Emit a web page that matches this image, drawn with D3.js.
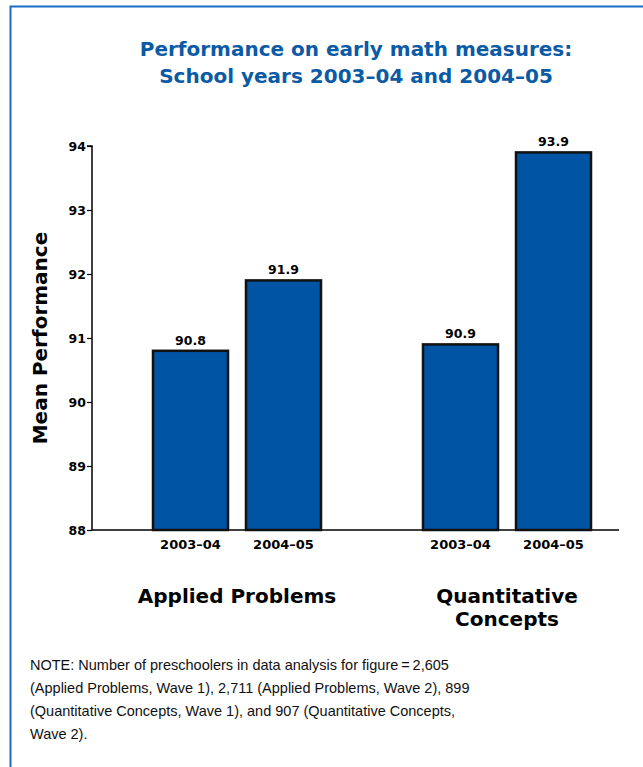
<!DOCTYPE html>
<html>
<head>
<meta charset="utf-8">
<script src="https://cdn.jsdelivr.net/npm/d3@7"></script>
<style>
	body { margin: 0; background: #fff; }
	svg { display: block; font-family: 'Liberation Sans', Arial, sans-serif; }
	.bold { font-family: 'DejaVu Sans', sans-serif; font-weight: bold; }
</style>
</head>
<body>
<script>
// data
var groups = ['Applied Problems', 'Quantitative Concepts'];
var groupLines = [['Applied Problems'], ['Quantitative', 'Concepts']];
var years = ['2003\u201304', '2004\u201305'];
var appliedValues = [90.8, 91.9];
var quantValues = [90.9, 93.9];
var yTicks = [88, 89, 90, 91, 92, 93, 94];
var noteLines = [
	'NOTE: Number of preschoolers in data analysis for figure\u2009=\u20092,605',
	'(Applied Problems, Wave 1), 2,711 (Applied Problems, Wave 2), 899',
	'(Quantitative Concepts, Wave 1), and 907 (Quantitative Concepts,',
	'Wave 2).'
];

var dataset = [];
groups.forEach(function (g, i) {
	var vals = i === 0 ? appliedValues : quantValues;
	years.forEach(function (yr, j) {
		dataset.push({ group: g, year: yr, value: vals[j] });
	});
});

var width = 643, height = 767;
var svg = d3.select('body')
	.append('svg')
	.attr('width', width)
	.attr('height', height);

// frame
svg.append('path')
	.attr('d', 'M10.5,' + height + ' V6.5 H' + width)
	.attr('fill', 'none')
	.attr('stroke', '#1a6cc4')
	.attr('stroke-width', 2);

// title
svg.append('text')
	.attr('class', 'bold')
	.attr('text-anchor', 'middle')
	.attr('fill', '#0b5aa6')
	.style('font-size', '20px')
	.selectAll('tspan')
	.data(['Performance on early math measures:', 'School years 2003\u201304 and 2004\u201305'])
	.enter()
	.append('tspan')
	.attr('x', 356)
	.attr('y', function (d, i) { return 56 + i * 27; })
	.text(function (d) { return d; });

// scales
var plotLeft = 92, plotRight = 619, plotTop = 146, plotBottom = 530;
var y = d3.scaleLinear().domain([88, 94]).range([plotBottom, plotTop]);
var x0 = d3.scaleBand().domain(groups).range([102, 642]);
var x1 = d3.scaleBand().domain(years).range([51, 219]).paddingInner(0.1935).paddingOuter(0);

// y axis
var yAxis = d3.axisLeft(y).tickValues(yTicks).tickFormat(d3.format('d')).tickSize(5).tickPadding(1);
var gy = svg.append('g')
	.attr('transform', 'translate(' + plotLeft + ',0)')
	.call(yAxis);
gy.select('.domain').attr('stroke', '#000').attr('stroke-width', 1.5).attr('d', 'M-5,' + plotTop + 'H0V' + plotBottom);
gy.selectAll('.tick line').attr('stroke', '#000').attr('stroke-width', 1.2);
gy.selectAll('.tick text')
	.attr('class', 'bold')
	.attr('fill', '#000')
	.style('font-size', '12.5px')
	.style('font-family', null);

// baseline
svg.append('line')
	.attr('x1', plotLeft).attr('x2', plotRight)
	.attr('y1', plotBottom).attr('y2', plotBottom)
	.attr('stroke', '#000')
	.attr('stroke-width', 1.5);

svg.append('text')
	.attr('class', 'bold')
	.attr('transform', 'translate(47,' + (plotTop + plotBottom) / 2 + ') rotate(-90)')
	.attr('text-anchor', 'middle')
	.style('font-size', '20px')
	.text('Mean Performance');

// bars
var bars = svg.selectAll('.bar')
	.data(dataset)
	.enter()
	.append('g')
	.attr('class', 'bar')
	.attr('transform', function (d) { return 'translate(' + (x0(d.group) + x1(d.year)) + ',0)'; });

bars.append('rect')
	.attr('x', 0)
	.attr('y', function (d) { return y(d.value); })
	.attr('width', x1.bandwidth())
	.attr('height', function (d) { return plotBottom - y(d.value); })
	.attr('fill', '#0054a4')
	.attr('stroke', '#111')
	.attr('stroke-width', 2.5);

bars.append('text')
	.attr('class', 'bold')
	.attr('x', x1.bandwidth() / 2)
	.attr('y', function (d) { return y(d.value) - 6; })
	.attr('text-anchor', 'middle')
	.style('font-size', '12.5px')
	.text(function (d) { return d.value.toFixed(1); });

bars.append('text')
	.attr('class', 'bold')
	.attr('x', x1.bandwidth() / 2)
	.attr('y', plotBottom + 19)
	.attr('text-anchor', 'middle')
	.style('font-size', '13px')
	.text(function (d) { return d.year; });

// group labels
groups.forEach(function (g, i) {
	svg.append('text')
		.attr('class', 'bold')
		.attr('text-anchor', 'middle')
		.style('font-size', '20px')
		.selectAll('tspan')
		.data(groupLines[i])
		.enter()
		.append('tspan')
		.attr('x', x0(g) + x0.bandwidth() / 2)
		.attr('y', function (d, k) { return 603 + k * 23; })
		.text(function (d) { return d; });
});

// note
svg.append('text')
	.style('font-size', '14.5px')
	.attr('fill', '#111')
	.selectAll('tspan')
	.data(noteLines)
	.enter()
	.append('tspan')
	.attr('x', 30)
	.attr('y', function (d, i) { return 670 + i * 23; })
	.text(function (d) { return d; });
</script>
</body>
</html>
